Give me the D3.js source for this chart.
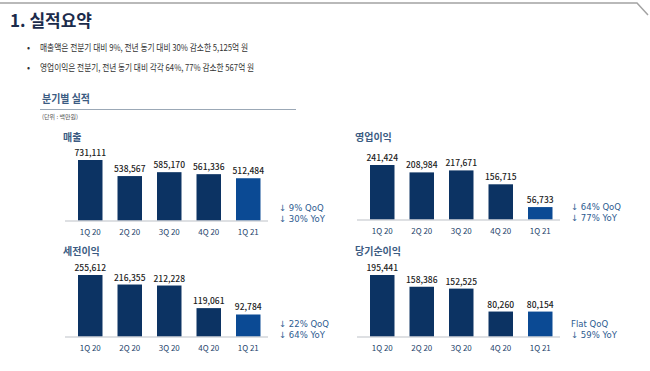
<!DOCTYPE html>
<html>
<head>
<meta charset="utf-8">
<script src="https://cdn.jsdelivr.net/npm/d3@7"></script>
<style>
  body { margin: 0; background: #fff; }
  svg { display: block; font-family: "Noto Sans CJK KR", "Noto Sans", sans-serif; }
</style>
</head>
<body>
<svg id="chart" width="650" height="371"></svg>
<script>
// ---- data ----
const quarters = ["1Q 20", "2Q 20", "3Q 20", "4Q 20", "1Q 21"];
const sales = [731111, 538567, 585170, 561336, 512484];
const operatingProfit = [241424, 208984, 217671, 156715, 56733];
const pretaxProfit = [255612, 216355, 212228, 119061, 92784];
const netProfit = [195441, 158386, 152525, 80260, 80154];

const panelTitles = ["매출", "영업이익", "세전이익", "당기순이익"];
const panelNotes = [
  ["↓ 9% QoQ", "↓ 30% YoY"],
  ["↓ 64% QoQ", "↓ 77% YoY"],
  ["↓ 22% QoQ", "↓ 64% YoY"],
  ["Flat QoQ", "↓ 59% YoY"]
];
const bullets = [
  "매출액은 전분기 대비 9%, 전년 동기 대비 30% 감소한 5,125억 원",
  "영업이익은 전분기, 전년 동기 대비 각각 64%, 77% 감소한 567억 원"
];

// ---- layout ----
const colDark = "#0c3363", colLast = "#0b4a94", noteCol = "#2d5b90";
const bulletWidths = [208, 214];   // condensed look of the original font
const layout = [
  {series: sales,           left: 70.5,  right: 268, base: 221, h: 61, titleUp: 80},
  {series: operatingProfit, left: 362.5, right: 560, base: 220, h: 55, titleUp: 79},
  {series: pretaxProfit,    left: 70.5,  right: 268, base: 337, h: 62, titleUp: 82},
  {series: netProfit,       left: 362.5, right: 560, base: 337, h: 62, titleUp: 82}
];

const svg = d3.select("#chart");

// header rule with the corner cut
svg.append("path")
   .attr("d", "M0,3 L637,3 L648,15")
   .attr("fill", "none")
   .attr("stroke", "#a3a3a3")
   .attr("stroke-width", 1.5);

svg.append("text")
   .attr("x", 10).attr("y", 27)
   .attr("font-size", 17).attr("font-weight", 700)
   .attr("fill", "#1b2b4b")
   .text("1. 실적요약");

bullets.forEach(function(b, i) {
  let y = 51 + i * 20;
  svg.append("text").attr("x", 27).attr("y", y)
     .attr("font-size", 9).attr("fill", "#333").text("•");
  svg.append("text").attr("x", 40).attr("y", y)
     .attr("font-size", 9.5).attr("fill", "#333")
     .attr("textLength", bulletWidths[i])
     .attr("lengthAdjust", "spacingAndGlyphs")
     .text(b);
});

svg.append("text")
   .attr("x", 42).attr("y", 103)
   .attr("font-size", 11).attr("font-weight", 700)
   .attr("fill", "#3b5b82")
   .attr("textLength", 48).attr("lengthAdjust", "spacingAndGlyphs")
   .text("분기별 실적");
svg.append("line")
   .attr("x1", 40).attr("x2", 296).attr("y1", 109.5).attr("y2", 109.5)
   .attr("stroke", "#9ba8b6").attr("stroke-width", 1);
svg.append("text")
   .attr("x", 42).attr("y", 119)
   .attr("font-size", 6).attr("fill", "#555")
   .text("(단위 : 백만원)");

// ---- panels ----
layout.forEach(function(p, i) {
  let g = svg.append("g");

  let x = d3.scaleBand()
            .domain(quarters)
            .range([p.left, p.right])
            .paddingInner(0.38)
            .paddingOuter(0.19);
  let y = d3.scaleLinear()
            .domain([0, d3.max(p.series)])
            .range([p.base, p.base - p.h]);

  let rows = quarters.map((q, k) => ({q: q, v: p.series[k], last: k === quarters.length - 1}));

  // panel title
  g.append("text")
   .attr("x", p.left - 7.5).attr("y", p.base - p.titleUp)
   .attr("font-size", 10).attr("font-weight", 700)
   .attr("fill", "#3b5b82")
   .text(panelTitles[i]);

  g.selectAll("rect").data(rows).enter().append("rect")
   .attr("x", d => x(d.q))
   .attr("y", d => y(d.v))
   .attr("width", x.bandwidth())
   .attr("height", d => p.base - y(d.v))
   .attr("fill", d => d.last ? colLast : colDark);

  // value labels
  g.selectAll("text.val").data(rows).enter().append("text")
   .attr("class", "val")
   .attr("x", d => x(d.q) + x.bandwidth() / 2)
   .attr("y", d => y(d.v) - 4)
   .attr("text-anchor", "middle")
   .attr("font-size", 8.5)
   .attr("font-weight", 500)
   .attr("fill", "#222")
   .text(d => d3.format(",")(d.v));

  // baseline + category axis
  let axis = g.append("g")
              .attr("transform", "translate(0," + p.base + ")")
              .call(d3.axisBottom(x).tickSize(0).tickPadding(8));
  axis.select(".domain")
      .attr("d", "M" + (p.left - 5.5) + ",0H" + p.right)
      .attr("stroke", "#d3d6da").attr("stroke-width", 1.5);
  axis.selectAll("text")
      .attr("font-family", "\"Noto Sans CJK KR\", sans-serif")
      .attr("font-size", 8)
      .attr("fill", "#25446b");

  // QoQ / YoY notes
  panelNotes[i].forEach(function(t, k) {
    g.append("text")
     .attr("x", p.right + 11).attr("y", p.base - 10 + k * 10.5)
     .attr("font-family", "\"DejaVu Sans\", sans-serif")
     .attr("font-size", 8.5)
     .attr("fill", noteCol)
     .text(t);
  });
});
</script>
</body>
</html>
